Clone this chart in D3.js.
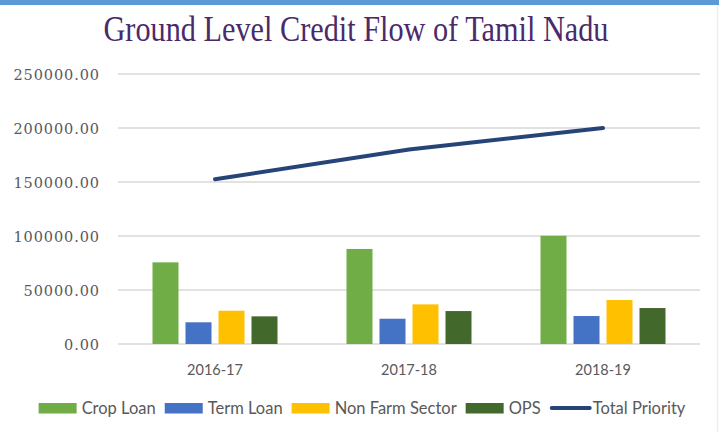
<!DOCTYPE html>
<html><head><meta charset="utf-8">
<script src="https://cdn.jsdelivr.net/npm/d3@7"></script>
<style>body{margin:0;background:#fff;overflow:hidden}svg{display:block}</style>
</head><body>
<svg id="c" width="719" height="432"></svg>
<script>
const categories = ["2016-17", "2017-18", "2018-19"];
const seriesNames = ["Crop Loan", "Term Loan", "Non Farm Sector", "OPS"];
const cropLoan = [75600, 88000, 100200];
const termLoan = [20100, 23400, 25900];
const nonFarm = [30800, 36700, 40700];
const ops = [25600, 30500, 33300];
const totalPriority = [152600, 180000, 200000];
const lineName = "Total Priority";
const yTicks = [0, 50000, 100000, 150000, 200000, 250000];
const colors = ["#70AD47", "#4472C4", "#FFC000", "#43682B"];
const lineColor = "#264478";

const barSeries = [cropLoan, termLoan, nonFarm, ops];
const svg = d3.select("#c");
const W = 719, H = 432;
const mLeft = 118, mRight = 700, mTop = 74, mBottom = 344;

svg.append("rect").attr("x",0).attr("y",0).attr("width",W).attr("height",5).attr("fill","#5B9BD5");
svg.append("line").attr("x1",717.5).attr("x2",717.5).attr("y1",5).attr("y2",H).attr("stroke","#e8eff8").attr("stroke-width",1.5);

svg.append("text").attr("x",356).attr("y",41).attr("text-anchor","middle")
  .attr("font-family","Liberation Serif, DejaVu Serif, serif").attr("font-size",35)
  .attr("fill","#4a2a6a").attr("textLength",505).attr("lengthAdjust","spacingAndGlyphs")
  .text("Ground Level Credit Flow of Tamil Nadu");

const y = d3.scaleLinear().domain([0,250000]).range([mBottom, mTop]);
const x0 = d3.scaleBand().domain(categories).range([mLeft,mRight]);
const x1 = d3.scaleBand().domain(seriesNames).range([34.5, x0.bandwidth()-34.5]).paddingInner(7/33).paddingOuter(0);

// grid
svg.append("g").selectAll("line").data(yTicks).join("line")
  .attr("x1",mLeft).attr("x2",mRight).attr("y1",d=>y(d)).attr("y2",d=>y(d))
  .attr("stroke","#d9d9d9").attr("stroke-width",1.5);

// y labels
const yAxis = d3.axisLeft(y).tickValues(yTicks).tickSize(0).tickPadding(0).tickFormat(d=>d3.format(".2f")(d));
const ya = svg.append("g").attr("transform","translate(100,0)").call(yAxis);
ya.select(".domain").remove();
ya.selectAll("text").attr("font-family","DejaVu Serif, serif").attr("font-size",14.5)
  .attr("letter-spacing","0.9px").attr("fill","#595959").attr("dy","0.36em");

// bars
const g = svg.append("g");
categories.forEach((c,i)=>{
  barSeries.forEach((s,j)=>{
    g.append("rect").attr("x",x0(c)+x1(seriesNames[j])).attr("width",x1.bandwidth())
      .attr("y",y(s[i])).attr("height",y(0)-y(s[i])).attr("fill",colors[j]);
  });
});

// line
const line = d3.line().x((d,i)=>x0(categories[i])+x0.bandwidth()/2).y(d=>y(d));
svg.append("path").datum(totalPriority).attr("d",line).attr("fill","none")
  .attr("stroke",lineColor).attr("stroke-width",4).attr("stroke-linecap","round");

// x labels
const xAxis = d3.axisBottom(x0).tickSize(0).tickPadding(0);
const xa = svg.append("g").attr("transform","translate(0,364)").call(xAxis);
xa.select(".domain").remove();
xa.selectAll("text").attr("font-family","Lato, sans-serif").attr("font-size",14.5).attr("fill","#595959").attr("dy","0.75em");

// legend
const lg = svg.append("g");
const items = seriesNames.map((n,i)=>({name:n,color:colors[i],type:"bar"})).concat([{name:lineName,color:lineColor,type:"line"}]);
let cx = 0;
items.forEach(it=>{
  const ig = lg.append("g").attr("transform",`translate(${cx},0)`);
  if(it.type==="bar"){
    ig.append("rect").attr("x",0).attr("y",403).attr("width",38).attr("height",10.5).attr("fill",it.color);
  } else {
    ig.append("line").attr("x1",2).attr("x2",40).attr("y1",408).attr("y2",408).attr("stroke",it.color).attr("stroke-width",4).attr("stroke-linecap","round");
  }
  const t = ig.append("text").attr("x",43).attr("y",414).attr("font-family","Lato, sans-serif")
    .attr("font-size",16.5).attr("fill","#595959").text(it.name);
  const w = t.node().getComputedTextLength();
  cx += 43 + w + 9;
});
const total = cx - 9;
lg.attr("transform",`translate(${362 - total/2},0)`);
</script>
</body></html>
